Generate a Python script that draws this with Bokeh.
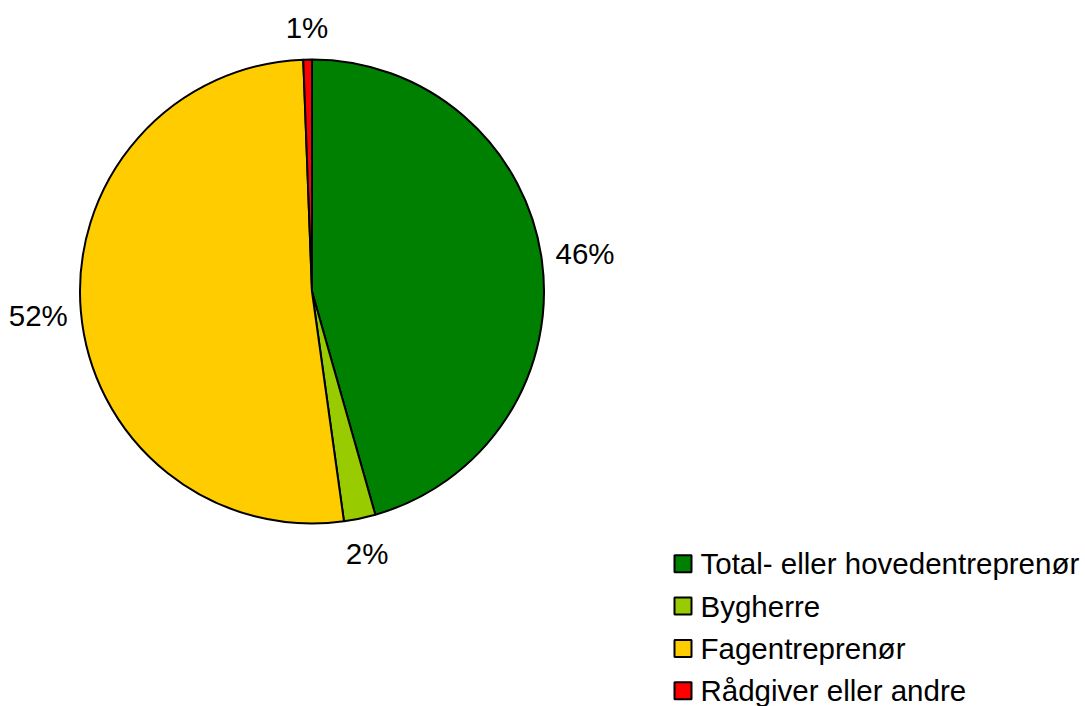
import math
from bokeh.plotting import figure
from bokeh.models import Range1d, ColumnDataSource
from bokeh.embed import file_html
from bokeh.resources import INLINE
from bokeh.core.properties import value

# ---- data ----
categories = ["Total- eller hovedentreprenør", "Bygherre", "Fagentreprenør", "Rådgiver eller andre"]
shares = [45.6, 2.2, 51.6, 0.6]
colors = ["#008000", "#99CC00", "#FFCC00", "#FF0000"]

# ---- layout (pixel-like data units) ----
W, H = 1085, 706
CX, CY, R = 311.5, 415.0, 232.0
FS = 29.5
FONT = "Liberation Sans"

p = figure(width=W, height=H, x_range=Range1d(0, W), y_range=Range1d(0, H),
           output_backend="svg", toolbar_location=None, min_border=0,
           x_axis_location=None, y_axis_location=None)
p.grid.visible = False
p.outline_line_color = None
p.background_fill_color = "white"
p.border_fill_color = "white"

total = sum(shares)
starts, ends, lx, ly, labels = [], [], [], [], []
cum = 0.0
for v in shares:
    a0 = cum / total * 2 * math.pi
    a1 = (cum + v) / total * 2 * math.pi
    starts.append(math.pi / 2 - a0)
    ends.append(math.pi / 2 - a1)
    mid = (a0 + a1) / 2
    txt = f"{round(v)}%"
    hw = 0.35 * FS * len(txt)
    s, c = math.sin(mid), math.cos(mid)
    d = R + 10 + abs(s) * hw + abs(c) * 22
    lx.append(CX + d * s)
    ly.append(CY + d * c)
    labels.append(txt)
    cum += v

src = ColumnDataSource(dict(start=starts, end=ends, color=colors, cat=categories,
                            lx=lx, ly=ly, label=labels))
p.wedge(x=CX, y=CY, radius=R, start_angle="start", end_angle="end", direction="clock",
        fill_color="color", line_color="black", line_width=2, source=src)
p.text(x="lx", y="ly", text="label", source=src, text_align="center", text_baseline="middle",
       text_font=value(FONT), text_font_size=f"{FS}px", text_color="black")

# ---- legend (manual) ----
LEG_X, LEG_Y0, LEG_DY, SQ = 682.5, 142.7, 42.3, 17
ly_leg = [LEG_Y0 - i * LEG_DY for i in range(len(categories))]
leg = ColumnDataSource(dict(x=[LEG_X] * len(categories), y=ly_leg, color=colors, cat=categories,
                            tx=[LEG_X + 17.5] * len(categories)))
p.rect(x="x", y="y", width=SQ, height=SQ, fill_color="color", line_color="black", line_width=2, source=leg)
p.text(x="tx", y="y", text="cat", source=leg, text_align="left", text_baseline="middle",
       text_font=value(FONT), text_font_size=f"{FS}px", text_color="black")

open("out.html", "w").write(file_html(p, INLINE))
